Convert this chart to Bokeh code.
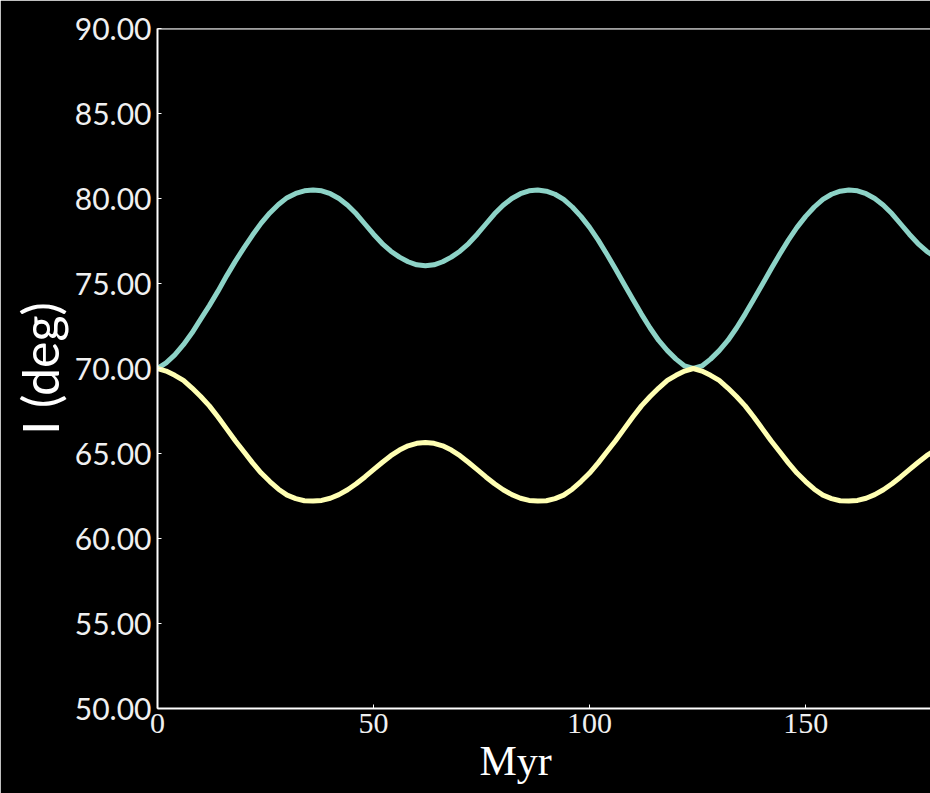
from bokeh.plotting import figure
from bokeh.models import FixedTicker, NumeralTickFormatter, Span, Title, ColumnDataSource
from bokeh.embed import file_html
from bokeh.resources import INLINE

# time in Myr
myr = list(range(0, 182, 2))

# inclination of the first body (teal)
incl_a = [70.0, 70.33, 70.8, 71.4, 72.1, 72.9, 73.7, 74.55, 75.45, 76.3,
          77.1, 77.85, 78.55, 79.15, 79.65, 80.05, 80.3, 80.45, 80.5, 80.45,
          80.28, 80.0, 79.6, 79.1, 78.5, 77.9, 77.35, 76.9, 76.55, 76.28,
          76.1, 76.05, 76.1, 76.28, 76.55, 76.9, 77.35, 77.9, 78.5, 79.1,
          79.6, 80.0, 80.28, 80.45, 80.5, 80.43, 80.25, 79.95, 79.5, 78.95,
          78.3, 77.55, 76.72, 75.85, 74.95, 74.07, 73.2, 72.38, 71.65, 71.05,
          70.55, 70.15, 70.0, 70.15, 70.55, 71.05, 71.65, 72.38, 73.2, 74.07,
          74.95, 75.85, 76.72, 77.55, 78.3, 78.95, 79.5, 79.95, 80.25, 80.43,
          80.5, 80.45, 80.28, 80.0, 79.6, 79.1, 78.5, 77.9, 77.35, 76.9, 76.55]

# inclination of the second body (yellow)
incl_b = [70.0, 69.85, 69.6, 69.3, 68.85, 68.35, 67.8, 67.15, 66.45, 65.75,
          65.1, 64.45, 63.85, 63.35, 62.9, 62.55, 62.35, 62.22, 62.2, 62.24,
          62.37, 62.58, 62.87, 63.22, 63.62, 64.05, 64.47, 64.87, 65.2, 65.45,
          65.6, 65.65, 65.6, 65.45, 65.2, 64.87, 64.47, 64.05, 63.62, 63.22,
          62.87, 62.58, 62.37, 62.24, 62.2, 62.22, 62.35, 62.55, 62.9, 63.35,
          63.85, 64.45, 65.1, 65.75, 66.45, 67.15, 67.8, 68.35, 68.85, 69.3,
          69.6, 69.85, 70.0, 69.85, 69.6, 69.3, 68.85, 68.35, 67.8, 67.15,
          66.45, 65.75, 65.1, 64.45, 63.85, 63.35, 62.9, 62.55, 62.35, 62.22,
          62.2, 62.24, 62.37, 62.58, 62.87, 63.22, 63.62, 64.05, 64.47, 64.87, 65.2]

y_ticks = [50, 55, 60, 65, 70, 75, 80, 85, 90]
x_ticks = [0, 50, 100, 150]

src = ColumnDataSource(dict(t=myr, a=incl_a, b=incl_b))

p = figure(width=930, height=793, x_range=(0, 178.9), y_range=(50, 90),
           output_backend="svg", toolbar_location=None,
           background_fill_color="black", border_fill_color="black",
           min_border_left=157, min_border_right=0, min_border_top=28,
           min_border_bottom=85)
p.outline_line_color = None
p.grid.visible = False

p.line("t", "a", source=src, line_color="#8dd3c7", line_width=5, line_join="round")
p.line("t", "b", source=src, line_color="#ffffb3", line_width=5, line_join="round")

p.add_layout(Span(location=90, dimension="width", line_color="white", line_width=2))

for ax in (p.xaxis[0], p.yaxis[0]):
    ax.axis_line_color = "white"
    ax.axis_line_width = 2
    ax.major_tick_line_color = "white"
    ax.major_tick_in = 4
    ax.major_tick_out = 0
    ax.minor_tick_line_color = None
    ax.major_label_text_color = "#f0f0f0"

p.yaxis.ticker = FixedTicker(ticks=y_ticks)
p.yaxis.formatter = NumeralTickFormatter(format="0.00")
p.yaxis.major_label_text_font = "Lato"
p.yaxis.major_label_text_font_size = "30px"
p.yaxis.major_label_standoff = 6
p.yaxis.axis_label = "I (deg)"
p.yaxis.axis_label_text_font = "Lato"
p.yaxis.axis_label_text_font_style = "normal"
p.yaxis.axis_label_text_font_size = "50px"
p.yaxis.axis_label_text_color = "white"
p.yaxis.axis_label_standoff = 2

p.xaxis.ticker = FixedTicker(ticks=x_ticks)
p.xaxis.major_label_text_font = "Liberation Serif"
p.xaxis.major_label_text_font_size = "30px"
p.xaxis.major_label_standoff = 5

p.add_layout(Title(text="Myr", align="left", offset=322, standoff=0,
                   text_font="Liberation Serif", text_font_size="42px",
                   text_font_style="normal", text_color="white"), "below")

open("out.html", "w").write(file_html(p, INLINE))
